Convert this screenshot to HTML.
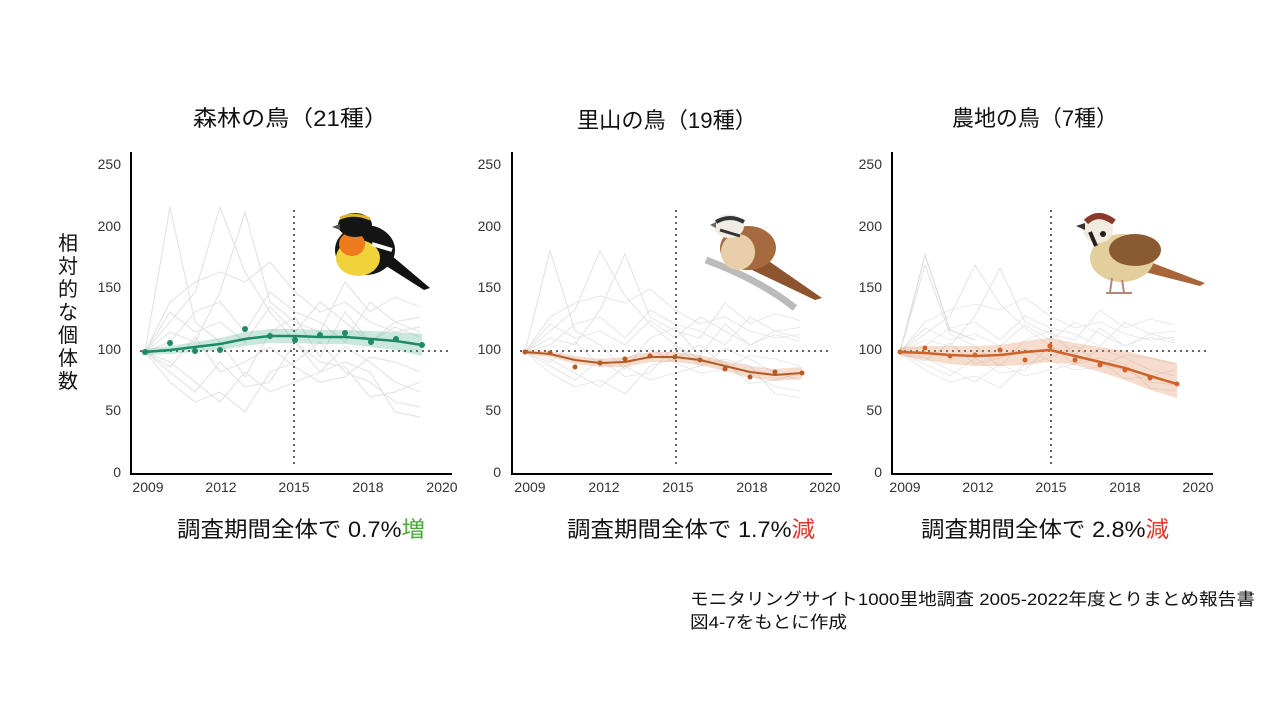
<!DOCTYPE html>
<html><head><meta charset="utf-8"><style>
html,body{margin:0;padding:0;background:#fff;}
svg text{font-family:"Liberation Sans","Noto Sans CJK JP",sans-serif;}
</style></head><body>
<svg width="1280" height="720" viewBox="0 0 1280 720" xmlns="http://www.w3.org/2000/svg">
<rect width="1280" height="720" fill="#fff"/>
<defs>
<g id="gray" fill="none" stroke="#dadada" stroke-width="1.2" opacity="0.7">
<polyline points="0,0 25,-145 50,-30 75,-10 100,25 125,-20 150,-35 175,5 200,-40 225,-10 250,-30 275,-20"/>
<polyline points="0,0 25,-30 50,-60 75,-145 100,-80 125,-40 150,-10 175,20 200,-5 225,10 250,30 275,40"/>
<polyline points="0,0 25,-20 50,-10 75,-60 100,-140 125,-50 150,-30 175,-20 200,-70 225,-40 250,-55 275,-45"/>
<polyline points="0,0 25,30 50,50 75,40 100,60 125,20 150,10 175,-10 200,20 225,30 250,50 275,55"/>
<polyline points="0,0 25,-50 50,-70 75,-80 100,-70 125,-90 150,-60 175,-40 200,-50 225,-30 250,-20 275,-25"/>
<polyline points="0,0 25,20 50,40 75,10 100,35 125,30 150,-10 175,10 200,15 225,45 250,40 275,30"/>
<polyline points="0,0 25,-10 50,-40 75,-50 100,-20 125,-60 150,-40 175,-30 200,-10 225,-50 250,-30 275,-35"/>
<polyline points="0,0 25,10 50,30 75,50 100,20 125,40 150,30 175,20 200,10 225,20 250,60 275,65"/>
<polyline points="0,0 25,-40 50,-20 75,-30 100,-10 125,-45 150,-20 175,-50 200,-30 225,-10 250,-25 275,-15"/>
<polyline points="0,0 25,15 50,-15 75,20 100,10 125,-5 150,15 175,30 200,25 225,5 250,10 275,20"/>
</g>
</defs>

<!-- Titles -->
<text x="193" y="126" font-size="22" fill="#111" textLength="195" lengthAdjust="spacingAndGlyphs">森林の鳥（21種）</text>
<text x="577" y="128" font-size="22" fill="#111" textLength="180" lengthAdjust="spacingAndGlyphs">里山の鳥（19種）</text>
<text x="952" y="126" font-size="22" fill="#111" textLength="166" lengthAdjust="spacingAndGlyphs">農地の鳥（7種）</text>

<!-- Y label -->
<g font-size="20" fill="#111" text-anchor="middle">
<text x="68" y="250">相</text><text x="68" y="273">対</text><text x="68" y="296">的</text><text x="68" y="319">な</text><text x="68" y="342">個</text><text x="68" y="365">体</text><text x="68" y="388">数</text>
</g>

<g id="p1">
<use href="#gray" transform="translate(145,352)"/>
<g font-size="14" fill="#333" text-anchor="end">
<text x="121" y="169">250</text><text x="121" y="231">200</text><text x="121" y="292">150</text><text x="121" y="354">100</text><text x="121" y="415">50</text><text x="121" y="477">0</text>
</g>
<g font-size="14" fill="#333" text-anchor="middle">
<text x="148" y="492">2009</text><text x="221" y="492">2012</text><text x="294" y="492">2015</text><text x="368" y="492">2018</text><text x="442" y="492">2020</text>
</g>
<line x1="131" y1="152" x2="131" y2="475" stroke="#000" stroke-width="2"/>
<line x1="130" y1="474" x2="452" y2="474" stroke="#000" stroke-width="2"/>
<line x1="140" y1="351" x2="452" y2="351" stroke="#666" stroke-width="2" stroke-dasharray="2,4"/>
<line x1="294" y1="210" x2="294" y2="465" stroke="#666" stroke-width="2" stroke-dasharray="2,4"/>
<polygon points="145,349 170,346 195,342 220,338 245,332 270,329 295,329 320,330 345,330 371,331 396,332 422,334 422,356 396,350 371,347 345,344 320,344 295,343 270,343 245,346 220,350 195,352 170,354 145,355" fill="#2aa57c" opacity="0.25"/>
<polyline points="145,352 170,350 195,347 220,344 245,339 270,336 295,336 320,337 345,337 371,339 396,341 422,345" fill="none" stroke="#1e8a66" stroke-width="2.5"/>
<g fill="#1e8a66">
<circle cx="145" cy="352" r="3"/><circle cx="170" cy="343" r="3"/><circle cx="195" cy="351" r="3"/><circle cx="220" cy="350" r="3"/><circle cx="245" cy="329" r="3"/><circle cx="270" cy="336" r="3"/><circle cx="295" cy="340" r="3"/><circle cx="320" cy="335" r="3"/><circle cx="345" cy="333" r="3"/><circle cx="371" cy="342" r="3"/><circle cx="396" cy="339" r="3"/><circle cx="422" cy="345" r="3"/>
</g>
<g>
<path d="M385,250 L430,288 L424,290 L380,262Z" fill="#111"/>
<ellipse cx="365" cy="250" rx="30" ry="25" fill="#141414"/>
<ellipse cx="358" cy="258" rx="22" ry="18" fill="#f2d23a"/>
<ellipse cx="352" cy="244" rx="13" ry="12" fill="#ee7a1e"/>
<ellipse cx="355" cy="225" rx="17" ry="12" fill="#141414"/>
<path d="M340,218 Q355,212 370,219" stroke="#e2b62a" stroke-width="3" fill="none"/>
<path d="M372,244 L392,250" stroke="#fff" stroke-width="4"/>
<path d="M332,227 L340,224 L340,230Z" fill="#555"/>
</g>
</g>

<g id="p2">
<use href="#gray" transform="translate(525,352) scale(1,0.7)"/>
<g font-size="14" fill="#333" text-anchor="end">
<text x="501" y="169">250</text><text x="501" y="231">200</text><text x="501" y="292">150</text><text x="501" y="354">100</text><text x="501" y="415">50</text><text x="501" y="477">0</text>
</g>
<g font-size="14" fill="#333" text-anchor="middle">
<text x="530" y="492">2009</text><text x="604" y="492">2012</text><text x="678" y="492">2015</text><text x="752" y="492">2018</text><text x="825" y="492">2020</text>
</g>
<line x1="512" y1="152" x2="512" y2="475" stroke="#000" stroke-width="2"/>
<line x1="511" y1="474" x2="832" y2="474" stroke="#000" stroke-width="2"/>
<line x1="520" y1="351" x2="832" y2="351" stroke="#666" stroke-width="2" stroke-dasharray="2,4"/>
<line x1="676" y1="210" x2="676" y2="465" stroke="#666" stroke-width="2" stroke-dasharray="2,4"/>
<polygon points="525,350 550,351 575,356 600,359 625,357 650,352 675,352 700,355 725,361 750,366 775,369 802,367 802,379 775,381 750,378 725,371 700,365 675,362 650,362 625,367 600,367 575,364 550,357 525,354" fill="#d4763a" opacity="0.25"/>
<polyline points="525,352 550,354 575,360 600,363 625,362 650,357 675,357 700,360 725,366 750,372 775,375 802,373" fill="none" stroke="#b55a25" stroke-width="2"/>
<g fill="#b55a25">
<circle cx="525" cy="352" r="2.5"/><circle cx="550" cy="353" r="2.5"/><circle cx="575" cy="367" r="2.5"/><circle cx="600" cy="363" r="2.5"/><circle cx="625" cy="359" r="2.5"/><circle cx="650" cy="356" r="2.5"/><circle cx="675" cy="357" r="2.5"/><circle cx="700" cy="360" r="2.5"/><circle cx="725" cy="369" r="2.5"/><circle cx="750" cy="377" r="2.5"/><circle cx="775" cy="372" r="2.5"/><circle cx="802" cy="373" r="2.5"/>
</g>
<g>
<path d="M706,260 Q760,280 795,308" stroke="#bbb" stroke-width="7" fill="none"/>
<path d="M760,255 L822,298 L815,300 L752,270Z" fill="#8c5530"/>
<ellipse cx="748" cy="248" rx="28" ry="22" fill="#a56b3f"/>
<ellipse cx="738" cy="252" rx="17" ry="18" fill="#e8cfaa"/>
<ellipse cx="729" cy="226" rx="15" ry="12" fill="#f0ebe3"/>
<path d="M716,222 Q730,214 744,222" stroke="#333" stroke-width="4" fill="none"/>
<path d="M720,230 L740,236" stroke="#333" stroke-width="3"/>
<path d="M710,225 L716,222 L716,228Z" fill="#666"/>
</g>
</g>

<g id="p3">
<use href="#gray" transform="translate(900,352) scale(1,0.6)"/>
<polyline points="900,352 925,255 950,330 975,340" fill="none" stroke="#ddd" stroke-width="1.2"/>
<g font-size="14" fill="#333" text-anchor="end">
<text x="882" y="169">250</text><text x="882" y="231">200</text><text x="882" y="292">150</text><text x="882" y="354">100</text><text x="882" y="415">50</text><text x="882" y="477">0</text>
</g>
<g font-size="14" fill="#333" text-anchor="middle">
<text x="905" y="492">2009</text><text x="978" y="492">2012</text><text x="1051" y="492">2015</text><text x="1125" y="492">2018</text><text x="1198" y="492">2020</text>
</g>
<line x1="892" y1="152" x2="892" y2="475" stroke="#000" stroke-width="2"/>
<line x1="891" y1="474" x2="1213" y2="474" stroke="#000" stroke-width="2"/>
<line x1="898" y1="351" x2="1210" y2="351" stroke="#666" stroke-width="2" stroke-dasharray="2,4"/>
<line x1="1051" y1="210" x2="1051" y2="465" stroke="#666" stroke-width="2" stroke-dasharray="2,4"/>
<polygon points="900,347 925,346 950,346 975,346 1000,345 1025,341 1050,338 1075,343 1100,347 1125,351 1150,357 1177,363 1177,398 1150,390 1125,380 1100,372 1075,365 1050,362 1025,365 1000,366 975,366 950,364 925,360 900,356" fill="#e08a55" opacity="0.3"/>
<polyline points="900,352 925,353 950,355 975,356 1000,355 1025,352 1050,350 1075,356 1100,362 1125,368 1150,376 1177,384" fill="none" stroke="#d0622a" stroke-width="2.5"/>
<g fill="#d0622a">
<circle cx="900" cy="352" r="2.5"/><circle cx="925" cy="348" r="2.5"/><circle cx="950" cy="356" r="2.5"/><circle cx="975" cy="355" r="2.5"/><circle cx="1000" cy="350" r="2.5"/><circle cx="1025" cy="360" r="2.5"/><circle cx="1050" cy="346" r="2.5"/><circle cx="1075" cy="360" r="2.5"/><circle cx="1100" cy="365" r="2.5"/><circle cx="1125" cy="370" r="2.5"/><circle cx="1150" cy="378" r="2.5"/><circle cx="1177" cy="384" r="2.5"/>
</g>
<g>
<path d="M1150,262 L1205,283 L1200,286 L1145,272Z" fill="#a8653a"/>
<ellipse cx="1122" cy="258" rx="32" ry="24" fill="#e3cf9c"/>
<ellipse cx="1135" cy="250" rx="26" ry="16" fill="#8a5a33"/>
<ellipse cx="1098" cy="230" rx="15" ry="13" fill="#f2ebe0"/>
<path d="M1086,222 Q1098,210 1114,222" stroke="#8a3a2a" stroke-width="6" fill="none"/>
<circle cx="1103" cy="234" r="3" fill="#222"/>
<path d="M1090,232 L1096,246" stroke="#222" stroke-width="4"/>
<path d="M1076,226 L1085,223 L1085,230Z" fill="#333"/>
<path d="M1112,278 L1110,292 M1122,280 L1124,292 M1106,293 L1132,293" stroke="#b08a78" stroke-width="2"/>
</g>
</g>

<!-- Subtitles -->
<text x="177" y="537" font-size="22" fill="#111" textLength="248" lengthAdjust="spacingAndGlyphs">調査期間全体で 0.7%<tspan fill="#4caa3c">増</tspan></text>
<text x="567" y="537" font-size="22" fill="#111" textLength="248" lengthAdjust="spacingAndGlyphs">調査期間全体で 1.7%<tspan fill="#e0352b">減</tspan></text>
<text x="921" y="537" font-size="22" fill="#111" textLength="248" lengthAdjust="spacingAndGlyphs">調査期間全体で 2.8%<tspan fill="#e0352b">減</tspan></text>

<!-- Source -->
<text x="690" y="605" font-size="17" fill="#111" textLength="565" lengthAdjust="spacingAndGlyphs">モニタリングサイト1000里地調査 2005-2022年度とりまとめ報告書</text>
<text x="690" y="628" font-size="17" fill="#111" textLength="157" lengthAdjust="spacingAndGlyphs">図4-7をもとに作成</text>
</svg>
</body></html>
